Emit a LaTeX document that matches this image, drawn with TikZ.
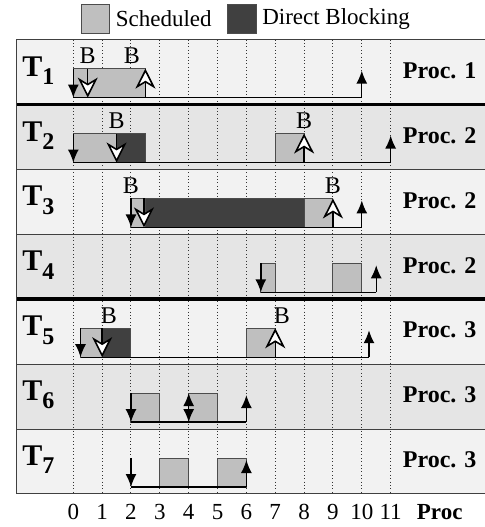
\documentclass[tikz,border=0pt]{standalone}
\usepackage{fontspec}
\setmainfont{Liberation Serif}
\usetikzlibrary{arrows.meta,positioning}

\definecolor{schedgray}{gray}{0.75}
\definecolor{blockgray}{gray}{0.25}
\definecolor{rowlight}{gray}{0.95}
\definecolor{rowdark}{gray}{0.9}

\newcommand{\tasklbl}[1]{\textbf{T}\raisebox{-0.6ex}{\fontsize{12}{12}\selectfont\textbf{#1}}}

\begin{document}
\begin{tikzpicture}[
    x=14.425pt, y=-0.5pt,
    every node/.style={font=\fontsize{11.5}{13}\selectfont, inner sep=0pt},
    sched/.style={draw=black!70, line width=0.5pt, fill=schedgray},
    block/.style={draw=black!70, line width=0.5pt, fill=blockgray},
    gridline/.style={line width=0.5pt, black!80, dash pattern=on 0.5pt off 1.2pt},
    jobline/.style={line width=0.7pt},
    release/.style={-{Latex[length=6.5pt,width=5.5pt]}, line width=0.7pt},
    both/.style={{Latex[length=6.5pt,width=5.5pt]}-{Latex[length=6.5pt,width=5.5pt]}, line width=0.7pt},
    hollow/.style={-{Stealth[length=10pt,width=10pt,inset=3pt,fill=white,line width=0.8pt]}, line width=0.7pt},
    tasklabel/.style={font=\fontsize{15}{17}\selectfont},
    proclabel/.style={font=\bfseries\fontsize{12}{14}\selectfont},
    blab/.style={font=\fontsize{12}{14}\selectfont},
    ticklabel/.style={font=\fontsize{11.5}{13}\selectfont},
    sep/.style={line width=0.5pt, black!75},
    thicksep/.style={line width=1.8pt}
]
\useasboundingbox (-2.5407,0) rectangle (14.2357,527);

% legend
\node[sched, minimum width=14.4pt, minimum height=14.5pt, anchor=north west] (legsched) at (0.256,4) {};
\node[right=2.5pt of legsched] (legschedtxt) {Scheduled};
\node[block, minimum width=14.4pt, minimum height=14.5pt, right=7.5pt of legschedtxt] (legblock) {};
\node[right=2.5pt of legblock] (legblocktxt) {Direct Blocking};

% rows
\foreach \r/\shade in {1/rowlight,2/rowdark,3/rowlight,4/rowdark,5/rowlight,6/rowdark,7/rowlight}
  \fill[\shade] (-1.986,{39.6+64.9*(\r-1)}) rectangle (14.3,{39.6+64.9*\r});

\foreach \t in {0,...,11}
  \draw[gridline] (\t,39.6) -- (\t,493.9);

\foreach \r/\p in {1/1,2/2,3/2,4/2,5/3,6/3,7/3}{
  \node[tasklabel] (task\r) at (-1.21,{39.6+64.9*(\r-1)+31}) {\tasklbl{\r}};
  \node[proclabel] (proc\r) at (12.7,{39.6+64.9*(\r-1)+31}) {Proc. \p};
}

% T1
\begin{scope}[shift={(0,39.6)}]
  \draw[sched] (0,29) rectangle (2.5,58);
  \draw[jobline] (0,58) -- (10,58);
  \draw[release] (0,29) -- (0,58);
  \draw[hollow] (0.5,29) -- (0.5,58);
  \draw[hollow] (2.5,58) -- (2.5,29);
  \draw[release] (10,58) -- (10,31);
  \node[blab] (b1a) at (0.5,16.5) {B};
  \node[blab] (b1b) at (2.03,16.5) {B};
\end{scope}

% T2
\begin{scope}[shift={(0,104.5)}]
  \draw[sched] (0,29) rectangle (1.5,58);
  \draw[block] (1.5,29) rectangle (2.5,58);
  \draw[sched] (7,29) rectangle (8,58);
  \draw[jobline] (0,58) -- (11,58);
  \draw[release] (0,29) -- (0,58);
  \draw[hollow] (1.5,29) -- (1.5,58);
  \draw[hollow] (8,58) -- (8,29);
  \draw[release] (11,58) -- (11,31);
  \node[blab] (b2a) at (1.5,16.5) {B};
  \node[blab] (b2b) at (8,16.5) {B};
\end{scope}

% T3
\begin{scope}[shift={(0,169.4)}]
  \draw[sched] (2,29) rectangle (2.5,58);
  \draw[block] (2.5,29) rectangle (8,58);
  \draw[sched] (8,29) rectangle (9,58);
  \draw[jobline] (2,58) -- (10,58);
  \draw[release] (2,29) -- (2,58);
  \draw[hollow] (2.45,29) -- (2.45,58);
  \draw[hollow] (9,58) -- (9,29);
  \draw[release] (10,58) -- (10,31);
  \node[blab] (b3a) at (2,16.5) {B};
  \node[blab] (b3b) at (9,16.5) {B};
\end{scope}

% T4
\begin{scope}[shift={(0,234.3)}]
  \draw[sched] (6.5,29) rectangle (7,58);
  \draw[sched] (9,29) rectangle (10,58);
  \draw[jobline] (6.5,58) -- (10.5,58);
  \draw[release] (6.5,29) -- (6.5,58);
  \draw[release] (10.5,58) -- (10.5,31);
\end{scope}

% T5
\begin{scope}[shift={(0,299.2)}]
  \draw[sched] (0.25,29) rectangle (1,58);
  \draw[block] (1,29) rectangle (2,58);
  \draw[sched] (6,29) rectangle (7,58);
  \draw[jobline] (0.25,58) -- (10.25,58);
  \draw[release] (0.25,29) -- (0.25,58);
  \draw[hollow] (1,29) -- (1,58);
  \draw[hollow] (7,58) -- (7,29);
  \draw[release] (10.25,58) -- (10.25,31);
  \node[blab] (b5a) at (1.23,16.5) {B};
  \node[blab] (b5b) at (7.23,16.5) {B};
\end{scope}

% T6
\begin{scope}[shift={(0,364.1)}]
  \draw[sched] (2,29) rectangle (3,58);
  \draw[sched] (4,29) rectangle (5,58);
  \draw[jobline] (2,58) -- (6,58);
  \draw[release] (2,29) -- (2,58);
  \draw[both] (4,29) -- (4,58);
  \draw[release] (6,58) -- (6,31);
\end{scope}

% T7
\begin{scope}[shift={(0,429.0)}]
  \draw[sched] (3,29) rectangle (4,58);
  \draw[sched] (5,29) rectangle (6,58);
  \draw[jobline] (2,58) -- (6,58);
  \draw[release] (2,29) -- (2,58);
  \draw[release] (6,58) -- (6,31);
\end{scope}

% separators
\draw[sep] (-1.986,39.6) -- (14.3,39.6);
\foreach \y in {169.4,234.3,364.1,429.0,493.9}
  \draw[sep] (-1.986,\y) -- (14.3,\y);
\draw[thicksep] (-1.986,104.5) -- (14.3,104.5);
\draw[thicksep] (-1.986,299.2) -- (14.3,299.2);
\draw[sep] (-1.986,39.6) -- (-1.986,493.9);

% axis
\foreach \t in {0,...,11}
  \node[ticklabel] (tick\t) at (\t,512) {\t};
\node[ticklabel, font=\bfseries\fontsize{11.5}{13}\selectfont] (axisproc) at (12.7,512) {Proc};
\end{tikzpicture}
\end{document}
